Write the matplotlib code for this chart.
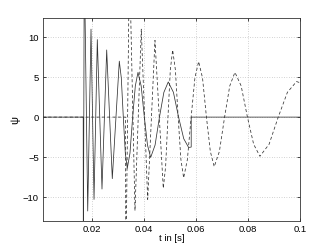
import matplotlib
matplotlib.use("Agg")
from matplotlib import pyplot as plt

# solid curve: (t, psi)
t_solid = [0.001, 0.01650, 0.01654, 0.01690, 0.01823, 0.0195, 0.02066, 0.02193,
           0.02373, 0.02554, 0.0277, 0.0304, 0.03117, 0.03194, 0.03271, 0.03348,
           0.03451, 0.03554, 0.03657, 0.0376, 0.03882, 0.04004, 0.04126, 0.04248,
           0.04418, 0.04587, 0.04757, 0.04926, 0.05125, 0.05323, 0.05522, 0.0571,
           0.0581, 0.0581, 0.1]
psi_solid = [0, 0, -20, 20, -11.75, 11.0, -10.3, 9.7,
             -9.0, 8.4, -7.7, 7.0, 4.9, 0, -4.5, -6.4,
             -4.5, 0, 3.9, 5.6, 3.9, 0, -3.5, -5.05,
             -3.5, 0, 3.1, 4.4, 3.1, 0, -2.7, -3.8,
             -3.75, 0, 0]

# dashed curve
t_dashed = [0.001, 0.0328, 0.03290, 0.0343, 0.03644, 0.03887, 0.04133, 0.04414,
            0.04734, 0.04824, 0.04915, 0.05005, 0.05095, 0.05201, 0.05307, 0.05413,
            0.05519, 0.05663, 0.05808, 0.05952, 0.06096, 0.06246, 0.06397, 0.06547,
            0.06697, 0.06896, 0.07096, 0.07295, 0.07494, 0.07735, 0.07976, 0.08216,
            0.08457, 0.0881, 0.09163, 0.09516, 0.09869, 0.1]
psi_dashed = [0, 0, -20, 20, -11.7, 11.0, -10.3, 9.6,
              -8.9, -6.2, 0, 5.9, 8.4, 5.9, 0, -5.3,
              -7.6, -5.3, 0, 4.9, 6.95, 4.9, 0, -4.3,
              -6.2, -4.3, 0, 3.9, 5.6, 3.9, 0, -3.4,
              -4.9, -3.4, 0, 3.1, 4.45, 4.3]

x_ticks = [0.02, 0.04, 0.06, 0.08, 0.1]
x_tick_labels = ["0.02", "0.04", "0.06", "0.08", "0.1"]
y_ticks = [-10, -5, 0, 5, 10]

plt.rcParams["font.family"] = ["Liberation Sans", "DejaVu Sans"]
plt.rcParams["font.size"] = 6.5

fig = plt.figure(figsize=(3.32, 2.5), dpi=100)
ax = fig.add_axes([0.1295, 0.116, 0.774, 0.812])

ax.plot(t_dashed, psi_dashed, color="#333333", lw=0.55, linestyle=(0, (4, 3)))
ax.plot(t_solid, psi_solid, color="#333333", lw=0.55)

ax.set_xlim(0.001, 0.1)
ax.set_ylim(-13, 12.4)
ax.set_xticks(x_ticks)
ax.set_xticklabels(x_tick_labels)
ax.set_yticks(y_ticks)
ax.grid(True, linestyle=(0, (1, 2.5)), color="#aaaaaa", lw=0.5)
ax.tick_params(direction="in", length=2.5, width=0.5, top=True, right=True,
               pad=3, labelsize=6.8)
for s in ax.spines.values():
    s.set_linewidth(0.6)
    s.set_color("#333333")

ax.set_xlabel("t in [s]", fontsize=6.8, labelpad=0)
ax.set_ylabel("\u03c8", fontsize=8, labelpad=2)

fig.savefig("out.png", dpi=100)
